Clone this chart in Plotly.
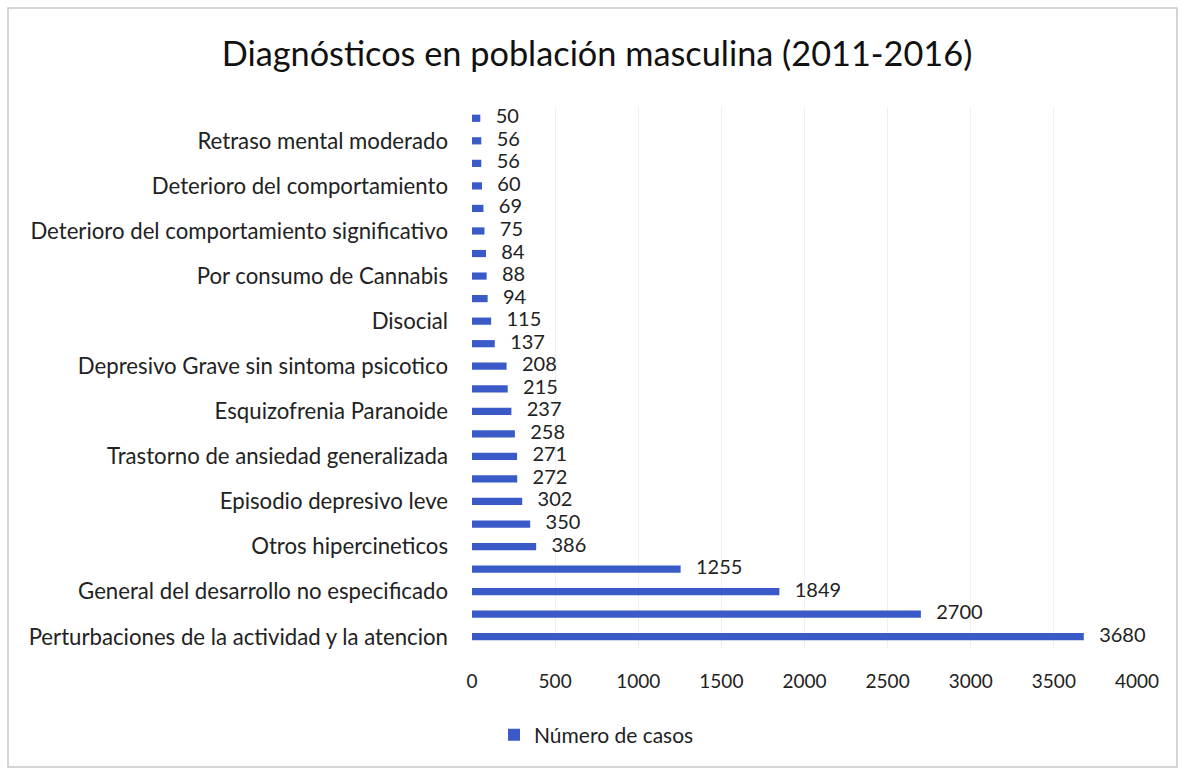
import plotly.graph_objects as go

# Values from bottom to top
casos = [3680, 2700, 1849, 1255, 386, 350, 302, 272, 271, 258, 237, 215,
         208, 137, 115, 94, 88, 84, 75, 69, 60, 56, 56, 50]
# Visible category labels (every other bar, starting from the bottom)
etiquetas = [
    "Perturbaciones de la actividad y la atencion",
    "General del desarrollo no especificado",
    "Otros hipercineticos",
    "Episodio depresivo leve",
    "Trastorno de ansiedad generalizada",
    "Esquizofrenia Paranoide",
    "Depresivo Grave sin sintoma psicotico",
    "Disocial",
    "Por consumo de Cannabis",
    "Deterioro del comportamiento significativo",
    "Deterioro del comportamiento",
    "Retraso mental moderado",
]
x_ticks = [0, 500, 1000, 1500, 2000, 2500, 3000, 3500, 4000]

pos = list(range(len(casos)))
FONT = "Lato, 'Open Sans', sans-serif"

fig = go.Figure()
fig.add_trace(go.Bar(
    x=casos, y=pos, orientation="h",
    name="Número de casos",
    marker=dict(color="#3A5BC7", line=dict(width=0)),
))
fig.add_trace(go.Scatter(
    x=casos, y=pos, mode="text",
    text=[f"{v}" for v in casos],
    textposition="middle right",
    texttemplate="   %{text}",
    textfont=dict(size=20, color="#222222", family=FONT),
    showlegend=False, hoverinfo="skip", cliponaxis=False,
))

W, H = 1186, 774
ml, mr, mt, mb = 472, 49, 107, 126
pw, ph = W - ml - mr, H - mt - mb

fig.update_layout(
    width=W, height=H,
    margin=dict(l=ml, r=mr, t=mt, b=mb),
    paper_bgcolor="white", plot_bgcolor="white",
    font=dict(family=FONT, color="#222222"),
    title=dict(text="Diagnósticos en población masculina (2011-2016)",
               x=597 / W, xanchor="center", y=1 - 54 / H, yanchor="middle",
               font=dict(size=34.3, color="#111111", family=FONT)),
    bargap=0.68,
    showlegend=True,
    legend=dict(orientation="h", x=(494 - ml) / pw, xanchor="left",
                y=-(735 - (H - mb)) / ph, yanchor="middle",
                font=dict(size=21, color="#222222", family=FONT),
                itemwidth=30),
    xaxis=dict(range=[0, 4000], tickvals=x_ticks,
               showgrid=True, gridcolor="#EFEFEF", gridwidth=1,
               zeroline=False, showline=False,
               tickfont=dict(size=19, color="#222222", family=FONT),
               ticklabelstandoff=20),
    yaxis=dict(range=[-0.5, len(casos) - 0.5],
               tickvals=pos[::2], ticktext=etiquetas,
               showgrid=False, zeroline=False, showline=False,
               tickfont=dict(size=22.2, color="#222222", family=FONT),
               ticklabelstandoff=23),
    shapes=[dict(type="rect", xref="paper", yref="paper",
                 x0=(8 - ml) / pw, x1=(1177 - ml) / pw,
                 y0=-(767 - (H - mb)) / ph, y1=1 + (mt - 8) / ph,
                 line=dict(color="#C8C8C8", width=1.5), layer="below")],
)

fig.write_html("out.html")
